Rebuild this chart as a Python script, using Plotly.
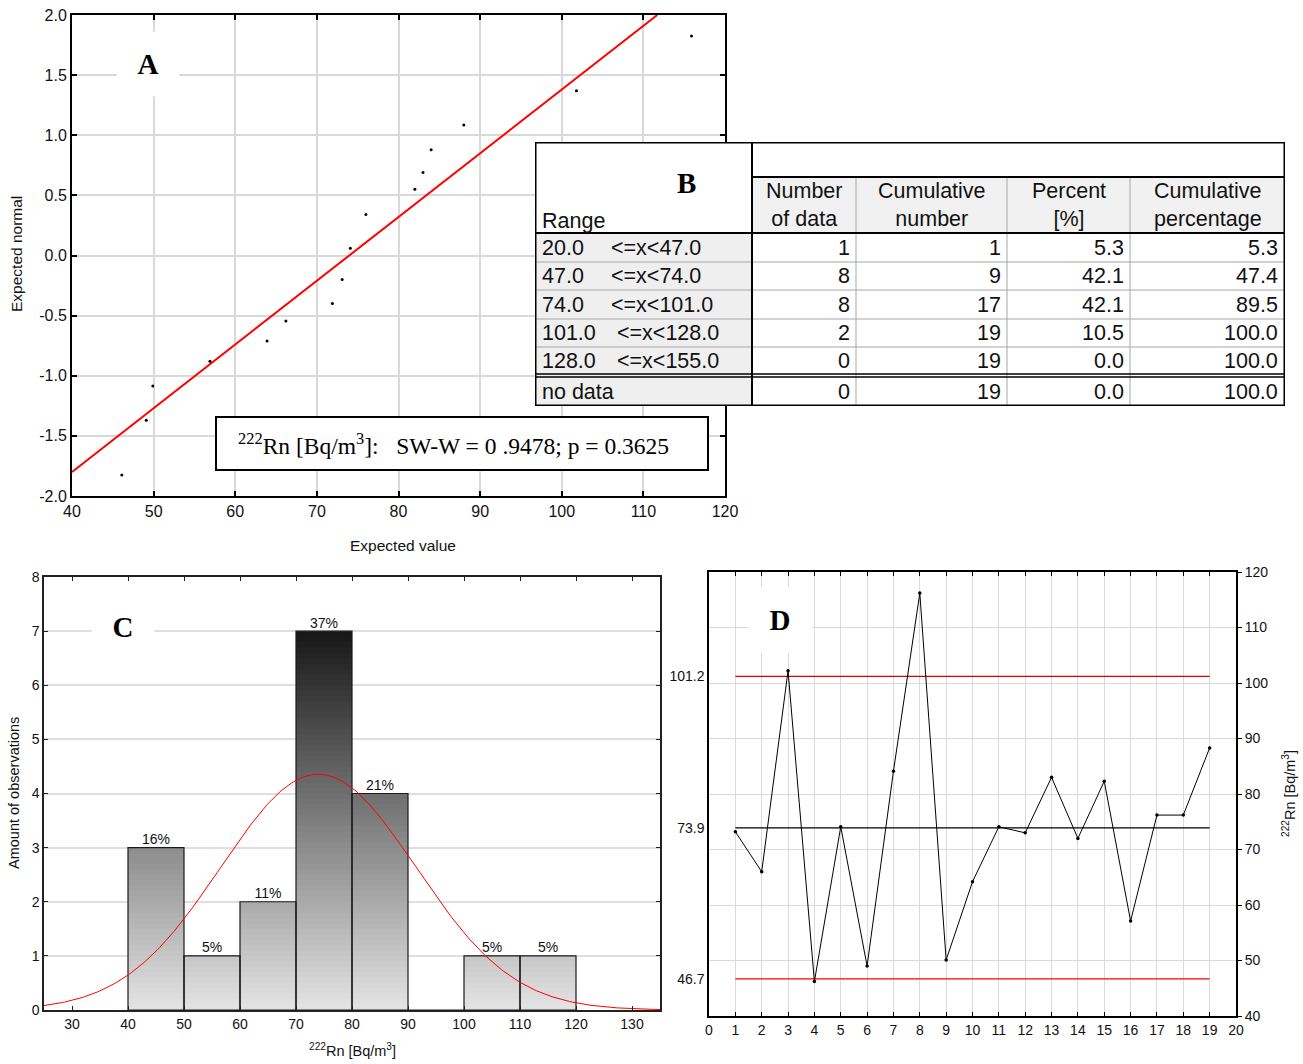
import numpy as np
import plotly.graph_objects as go

# the page body margin is removed after load, so the figure fills the whole 1303x1064 window
OFF = 0
W, H = 1303 - 2 * OFF, 1064 - 2 * OFF

# ---------------- Panel A data (normal probability plot) ----------------
qq_x = [46.1, 49.1, 49.9, 56.9, 63.9, 66.2, 71.9, 73.1, 74.1, 76.0, 82.0, 83.0, 84.0, 88.0, 101.8, 115.9]
qq_y = [-1.825, -1.37, -1.085, -0.88, -0.71, -0.545, -0.40, -0.20, 0.06, 0.34, 0.55, 0.69, 0.88, 1.085, 1.37, 1.825]
fit_x = [40.0, 111.7]
fit_y = [-1.8, 2.0]
a_xticks = [40, 50, 60, 70, 80, 90, 100, 110, 120]
a_yticks = [-2.0, -1.5, -1.0, -0.5, 0.0, 0.5, 1.0, 1.5, 2.0]
a_yticklabels = ["-2.0", "-1.5", "-1.0", "-0.5", "0.0", "0.5", "1.0", "1.5", "2.0"]
sw_text = "<sup>222</sup>Rn [Bq/m<sup>3</sup>]:&nbsp;&nbsp; SW-W = 0 .9478; p = 0.3625"

# ---------------- Panel B data (frequency table) ----------------
tbl_lo = ["20.0", "47.0", "74.0", "101.0", "128.0"]
tbl_hi = ["<=x<47.0", "<=x<74.0", "<=x<101.0", "<=x<128.0", "<=x<155.0"]
tbl_count = ["1", "8", "8", "2", "0", "0"]
tbl_cum = ["1", "9", "17", "19", "19", "19"]
tbl_pct = ["5.3", "42.1", "42.1", "10.5", "0.0", "0.0"]
tbl_cumpct = ["5.3", "47.4", "89.5", "100.0", "100.0", "100.0"]
tbl_headers = ["Number<br>of data", "Cumulative<br>number", "Percent<br>[%]", "Cumulative<br>percentage"]

# ---------------- Panel C data (histogram) ----------------
bin_left = [40, 50, 60, 70, 80, 90, 100, 110]
bin_counts = [3, 1, 2, 7, 4, 0, 1, 1]
bin_pct = ["16%", "5%", "11%", "37%", "21%", "", "5%", "5%"]
bin_width = 10
n_obs = 19
fit_mean = 74.0
fit_sd = 17.4

# ---------------- Panel D data (control chart) ----------------
sample_no = list(range(1, 20))
rn_values = [73.2, 66.0, 102.2, 46.2, 74.1, 49.0, 84.1, 116.2, 50.1, 64.2,
             74.1, 73.0, 83.0, 72.0, 82.3, 57.1, 76.2, 76.2, 88.3]
center_val = 73.9
upper_val = 101.2
lower_val = 46.7
limit_labels = ["46.7", "73.9", "101.2"]


def px_x(p):
    return (p - OFF) / W


def px_y(p):
    return 1 - (p - OFF) / H


SANS = "Liberation Sans, Arial, sans-serif"
SERIF = "Liberation Serif, Times New Roman, serif"

fig = go.Figure()

# ---------- Panel A traces ----------
fig.add_trace(go.Scatter(x=fit_x, y=fit_y, mode="lines", line=dict(color="#ff0000", width=2),
                         xaxis="x", yaxis="y", showlegend=False, hoverinfo="skip"))
fig.add_trace(go.Scatter(x=qq_x, y=qq_y, mode="markers", marker=dict(color="black", size=3),
                         xaxis="x", yaxis="y", showlegend=False))

# ---------- Panel C traces ----------
centers = [b + bin_width / 2 for b in bin_left]
step = 0.1
maxc = max(bin_counts)
lv = 0.0
while lv < maxc - 1e-9:
    heights = []
    for c in bin_counts:
        if c > lv:
            heights.append(min(step + 0.02, c - lv))
        else:
            heights.append(0)
    g = int(round(228 - (lv + step / 2) / maxc * 205))
    fig.add_trace(go.Bar(x=centers, y=heights, base=[lv] * len(bin_counts), width=bin_width,
                         marker=dict(color=f"rgb({g},{g},{g})", line=dict(width=0)),
                         xaxis="x2", yaxis="y2", showlegend=False, hoverinfo="skip"))
    lv = round(lv + step, 6)
fig.add_trace(go.Bar(x=centers, y=bin_counts, width=bin_width,
                     marker=dict(color="rgba(0,0,0,0)", line=dict(color="#1a1a1a", width=1.2)),
                     xaxis="x2", yaxis="y2", showlegend=False, hoverinfo="skip"))
lab_x = [c for c, t in zip(centers, bin_pct) if t]
lab_y = [v for v, t in zip(bin_counts, bin_pct) if t]
lab_t = [t for t in bin_pct if t]
fig.add_trace(go.Scatter(x=lab_x, y=lab_y, mode="text", text=lab_t, textposition="top center",
                         textfont=dict(family=SANS, size=14, color="#111"),
                         xaxis="x2", yaxis="y2", showlegend=False, hoverinfo="skip"))
cx = np.linspace(25, 135, 300)
cy = n_obs * bin_width / (fit_sd * np.sqrt(2 * np.pi)) * np.exp(-0.5 * ((cx - fit_mean) / fit_sd) ** 2)
fig.add_trace(go.Scatter(x=cx, y=cy, mode="lines", line=dict(color="#ff0000", width=1),
                         xaxis="x2", yaxis="y2", showlegend=False, hoverinfo="skip"))

# ---------- Panel D traces ----------
ends = [sample_no[0], sample_no[-1]]
fig.add_trace(go.Scatter(x=ends, y=[upper_val] * 2, mode="lines", line=dict(color="#e00000", width=1.3),
                         xaxis="x3", yaxis="y3", showlegend=False, hoverinfo="skip"))
fig.add_trace(go.Scatter(x=ends, y=[lower_val] * 2, mode="lines", line=dict(color="#ff0000", width=1.3),
                         xaxis="x3", yaxis="y3", showlegend=False, hoverinfo="skip"))
fig.add_trace(go.Scatter(x=ends, y=[center_val] * 2, mode="lines", line=dict(color="black", width=1.2),
                         xaxis="x3", yaxis="y3", showlegend=False, hoverinfo="skip"))
fig.add_trace(go.Scatter(x=sample_no, y=rn_values, mode="lines+markers",
                         line=dict(color="black", width=1), marker=dict(color="black", size=3.5),
                         xaxis="x3", yaxis="y3", showlegend=False))
# invisible traces to activate the left limit axis and the table axes
fig.add_trace(go.Scatter(x=[None], y=[None], xaxis="x3", yaxis="y5", showlegend=False))
fig.add_trace(go.Scatter(x=[None], y=[None], xaxis="x4", yaxis="y4", showlegend=False))

tick_a = dict(family=SANS, size=16, color="#111")
tick_s = dict(family=SANS, size=14, color="#111")

layout = dict(
    template="none",
    width=W, height=H, margin=dict(l=0, r=0, t=0, b=0, pad=0), autosize=False,
    paper_bgcolor="white", plot_bgcolor="white",
    font=dict(family=SANS, color="#111"),
    barmode="overlay", showlegend=False,
    # Panel A
    xaxis=dict(domain=[px_x(72), px_x(725)], range=[40, 120], tickvals=a_xticks, automargin=False,
               showgrid=True, gridcolor="#d9d9d9", gridwidth=2, zeroline=False,
               showline=True, linecolor="black", linewidth=2, mirror="ticks",
               ticks="inside", ticklen=5, tickcolor="black", tickwidth=1.5,
               tickfont=tick_a, anchor="y"),
    yaxis=dict(domain=[px_y(496), px_y(15)], range=[-2, 2], tickvals=a_yticks, ticktext=a_yticklabels,
               automargin=False,
               showgrid=True, gridcolor="#d9d9d9", gridwidth=2, zeroline=False,
               showline=True, linecolor="black", linewidth=2, mirror="ticks",
               ticks="inside", ticklen=5, tickcolor="black", tickwidth=1.5,
               tickfont=tick_a, anchor="x"),
    # Panel C
    xaxis2=dict(domain=[px_x(44), px_x(660)], range=[25, 135], dtick=10, tick0=30, automargin=False,
                showgrid=False, zeroline=False,
                showline=True, linecolor="#222", linewidth=1.5, mirror="ticks",
                ticks="inside", ticklen=4, tickcolor="#222",
                tickfont=tick_s, anchor="y2"),
    yaxis2=dict(domain=[px_y(1010), px_y(577)], range=[0, 8], dtick=1, automargin=False,
                showgrid=True, gridcolor="#dedede", gridwidth=1.5, zeroline=False,
                showline=True, linecolor="#222", linewidth=1.5, mirror="ticks",
                ticks="inside", ticklen=4, tickcolor="#222",
                tickfont=tick_s, anchor="x2"),
    # Panel D
    xaxis3=dict(domain=[px_x(709), px_x(1236)], range=[0, 20], dtick=1, automargin=False,
                showgrid=True, gridcolor="#dadada", gridwidth=1, zeroline=False,
                showline=True, linecolor="black", linewidth=1.5, mirror="ticks",
                ticks="inside", ticklen=4, tickcolor="black",
                tickfont=tick_s, anchor="y3"),
    yaxis3=dict(domain=[px_y(1016), px_y(572)], range=[40, 120], dtick=10, side="right", automargin=False,
                showgrid=True, gridcolor="#dadada", gridwidth=1, zeroline=False,
                showline=True, linecolor="black", linewidth=2,
                ticks="outside", ticklen=4, tickcolor="black",
                tickfont=tick_s, anchor="x3"),
    yaxis5=dict(overlaying="y3", range=[40, 120], side="left", anchor="x3", automargin=False,
                tickvals=[lower_val, center_val, upper_val], ticktext=limit_labels,
                showgrid=False, zeroline=False, showline=True, linecolor="black", linewidth=1.5,
                ticks="", tickfont=tick_s),
    # Table axes (reference pixel units)
    xaxis4=dict(domain=[px_x(535), px_x(1285)], range=[535, 1285], visible=False, anchor="y4",
                automargin=False),
    yaxis4=dict(domain=[px_y(406), px_y(142)], range=[406, 142], visible=False, anchor="x4",
                automargin=False),
)
fig.update_layout(**layout)

shapes = []
annotations = []

# ---------- Table B ----------
TX, TY = "x4", "y4"
L, R, T, B = 535, 1285, 142, 406
col_edges = [752, 856, 1007, 1130, 1285]
row_edges = [233, 262, 290, 319, 347, 374]
nodata_top = 377


def rect(x0, y0, x1, y1, fill=None, line=None, lw=0):
    shapes.append(dict(type="rect", xref=TX, yref=TY, x0=x0, y0=y0, x1=x1, y1=y1, layer="above",
                       fillcolor=fill if fill else "rgba(0,0,0,0)",
                       line=dict(color=line if line else "rgba(0,0,0,0)", width=lw)))


def seg(x0, y0, x1, y1, color, lw):
    shapes.append(dict(type="line", xref=TX, yref=TY, x0=x0, y0=y0, x1=x1, y1=y1, layer="above",
                       line=dict(color=color, width=lw)))


rect(L, T, R, B, fill="white")
rect(col_edges[0], 177, R, 233, fill="#f1f1f1")
rect(L, 233, col_edges[0], B, fill="#efefef")
for y in row_edges[1:-1]:
    seg(L, y, R, y, "#a6a6a6", 1)
for x in col_edges[1:-1]:
    seg(x, 177, x, B, "#a6a6a6", 1)
seg(col_edges[0], 177, R, 177, "black", 2)
seg(L, 233, R, 233, "black", 2)
seg(L, row_edges[-1], R, row_edges[-1], "black", 1.5)
seg(L, nodata_top, R, nodata_top, "black", 1.5)
seg(col_edges[0], T, col_edges[0], B, "black", 2)
rect(L, T, R, B, line="black", lw=3)

tfont = dict(family=SANS, size=21.5, color="#111")
row_centers = [247.5, 276, 304.5, 333, 360.5, 391.5]
for i in range(len(tbl_lo)):
    annotations.append(dict(xref=TX, yref=TY, x=540, y=row_centers[i], text=tbl_lo[i], showarrow=False,
                            xanchor="left", yanchor="middle", font=tfont))
    annotations.append(dict(xref=TX, yref=TY, x=609 if len(tbl_lo[i]) == 4 else 615, y=row_centers[i],
                            text=tbl_hi[i], showarrow=False, xanchor="left", yanchor="middle", font=tfont))
annotations.append(dict(xref=TX, yref=TY, x=540, y=row_centers[5], text="no data", showarrow=False,
                        xanchor="left", yanchor="middle", font=tfont))
for cols, xr in zip([tbl_count, tbl_cum, tbl_pct, tbl_cumpct], [852, 1003, 1126, 1280]):
    for i, v in enumerate(cols):
        annotations.append(dict(xref=TX, yref=TY, x=xr, y=row_centers[i], text=v, showarrow=False,
                                xanchor="right", yanchor="middle", font=tfont))
for i, htxt in enumerate(tbl_headers):
    xc = (col_edges[i] + col_edges[i + 1]) / 2
    annotations.append(dict(xref=TX, yref=TY, x=xc, y=205, text=htxt, showarrow=False,
                            xanchor="center", yanchor="middle", font=tfont))
annotations.append(dict(xref=TX, yref=TY, x=540, y=221, text="Range", showarrow=False,
                        xanchor="left", yanchor="middle", font=tfont))
annotations.append(dict(xref=TX, yref=TY, x=686, y=183, text="<b>B</b>", showarrow=False,
                        xanchor="center", yanchor="middle", font=dict(family=SERIF, size=29, color="black")))

# ---------- Panel labels A, C, D ----------
for lab, cxp, cyp in [("A", 148, 64), ("C", 123, 627), ("D", 780, 620)]:
    annotations.append(dict(xref="paper", yref="paper", x=px_x(cxp), y=px_y(cyp), text=f"<b>{lab}</b>",
                            showarrow=False, xanchor="center", yanchor="middle", bgcolor="white",
                            width=62, height=64, borderpad=0,
                            font=dict(family=SERIF, size=29, color="black")))

# ---------- SW-W box ----------
shapes.append(dict(type="rect", xref="paper", yref="paper", x0=px_x(216), x1=px_x(708),
                   y0=px_y(470), y1=px_y(417), layer="above", fillcolor="white",
                   line=dict(color="black", width=2)))
annotations.append(dict(xref="paper", yref="paper", x=px_x(236), y=px_y(443.5), text=sw_text,
                        showarrow=False, xanchor="left", yanchor="middle",
                        font=dict(family=SERIF, size=23.5, color="black")))

# ---------- Axis titles ----------
tf_a = dict(family=SANS, size=15.5, color="#111")
tf_s = dict(family=SANS, size=14.5, color="#111")
annotations += [
    dict(xref="paper", yref="paper", x=px_x(16), y=px_y(254), text="Expected normal", textangle=-90,
         showarrow=False, xanchor="center", yanchor="middle", font=tf_a),
    dict(xref="paper", yref="paper", x=px_x(403), y=px_y(545), text="Expected value",
         showarrow=False, xanchor="center", yanchor="middle", font=tf_a),
    dict(xref="paper", yref="paper", x=px_x(14), y=px_y(793), text="Amount of observations", textangle=-90,
         showarrow=False, xanchor="center", yanchor="middle", font=tf_s),
    dict(xref="paper", yref="paper", x=px_x(352), y=px_y(1050), text="<sup>222</sup>Rn [Bq/m<sup>3</sup>]",
         showarrow=False, xanchor="center", yanchor="middle", font=tf_s),
    dict(xref="paper", yref="paper", x=px_x(1289), y=px_y(794), text="<sup>222</sup>Rn [Bq/m<sup>3</sup>]",
         textangle=-90, showarrow=False, xanchor="center", yanchor="middle", font=tf_s),
]

fig.update_layout(shapes=shapes, annotations=annotations)

fig.write_html("out.html", config={"displayModeBar": False},
               post_script="document.body.style.margin='0px';document.body.style.overflow='hidden';")
